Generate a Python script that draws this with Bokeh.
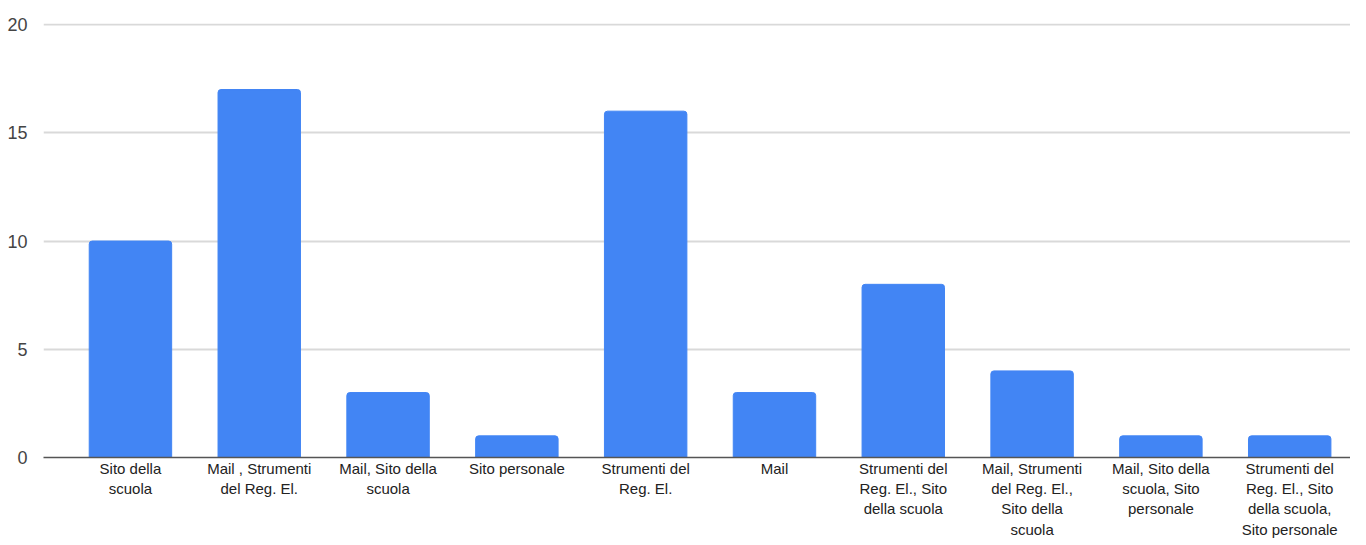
from bokeh.plotting import figure
from bokeh.models import FixedTicker, Range1d
from bokeh.embed import file_html
from bokeh.resources import INLINE

categories = [
    "Sito della\nscuola",
    "Mail , Strumenti\ndel Reg. El.",
    "Mail, Sito della\nscuola",
    "Sito personale",
    "Strumenti del\nReg. El.",
    "Mail",
    "Strumenti del\nReg. El., Sito\ndella scuola",
    "Mail, Strumenti\ndel Reg. El.,\nSito della\nscuola",
    "Mail, Sito della\nscuola, Sito\npersonale",
    "Strumenti del\nReg. El., Sito\ndella scuola,\nSito personale",
]
values = [10, 17, 3, 1, 16, 3, 8, 4, 1, 1]
y_ticks = [0, 5, 10, 15, 20]

xs = list(range(len(categories)))

p = figure(frame_width=1307, frame_height=434, output_backend="svg", toolbar_location=None,
           x_range=Range1d(-0.675, 9.472), y_range=Range1d(0, 20.05),
           min_border_left=43, min_border_right=0, min_border_top=23,
           min_border_bottom=0)
p.outline_line_color = None

p.vbar(x=xs, top=values, width=0.64, color="#4285F4",
       border_radius=(3, 3, 0, 0))

p.xaxis.ticker = FixedTicker(ticks=xs)
p.xaxis.major_label_overrides = {i: c for i, c in zip(xs, categories)}
p.xaxis.major_tick_in = 0
p.xaxis.major_tick_out = 0
p.xaxis.minor_tick_line_color = None
p.xaxis.axis_line_color = "#555555"
p.xaxis.axis_line_width = 1.5
p.xaxis.major_label_text_font = "Liberation Sans"
p.xaxis.major_label_text_font_size = "15px"
p.xaxis.major_label_text_color = "#222222"
p.xaxis.major_label_standoff = 2
p.xgrid.grid_line_color = None

p.yaxis.ticker = FixedTicker(ticks=y_ticks)
p.yaxis.axis_line_color = None
p.yaxis.major_tick_line_color = None
p.yaxis.minor_tick_line_color = None
p.yaxis.major_label_text_font = "Liberation Sans"
p.yaxis.major_label_text_font_size = "18px"
p.yaxis.major_label_text_color = "#444444"
p.yaxis.major_label_standoff = 10
p.ygrid.grid_line_color = "#d9d9d9"
p.ygrid.grid_line_width = 2

open("out.html", "w").write(file_html(p, INLINE))
